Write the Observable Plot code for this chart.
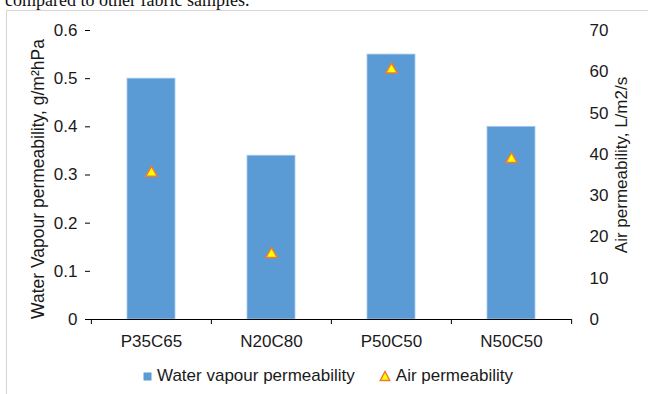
<!DOCTYPE html>
<html>
<head>
<meta charset="utf-8">
<script src="https://cdn.jsdelivr.net/npm/d3@7"></script>
<script src="https://cdn.jsdelivr.net/npm/@observablehq/plot@0.6"></script>
<style>
  html, body { margin: 0; padding: 0; background: #fff; }
  body { width: 648px; height: 394px; position: relative; overflow: hidden; font-family: "Liberation Sans", Arial, sans-serif; }
  #caption { position: absolute; left: 5px; top: -9px; font: 18px/18px "Liberation Serif", "Times New Roman", serif; color: #111; white-space: nowrap; }
  #frame { position: absolute; left: 6px; top: 10px; width: 660px; height: 400px; border-left: 1.5px solid #d6d6d6; border-top: 1.5px solid #d6d6d6; }
  #chart { position: absolute; left: 0; top: 0; }
  #legend { position: absolute; left: 143px; top: 366px; display: flex; align-items: center; font-size: 17px; color: #1a1a1a; white-space: nowrap; }
  #legend .item { display: flex; align-items: center; }
  #legend svg { margin-right: 5px; }
</style>
</head>
<body>
<div id="caption">compared to other fabric samples.</div>
<div id="frame"></div>
<div id="chart"></div>
<div id="legend"></div>
<script>
// ---- data ----
const samples = ["P35C65", "N20C80", "P50C50", "N50C50"];
const waterVapour = [0.50, 0.34, 0.55, 0.40];          // g/m²hPa (left axis)
const airPermeability = [36, 16.3, 61, 39.3];          // L/m2/s (right axis)
const leftTicks = [0, 0.1, 0.2, 0.3, 0.4, 0.5, 0.6];
const rightTicks = [0, 10, 20, 30, 40, 50, 60, 70];
const leftMax = 0.6, rightMax = 70;
const leftTitle = "Water Vapour permeability, g/m²hPa";
const rightTitle = "Air permeability, L/m2/s";
const seriesNames = ["Water vapour permeability", "Air permeability"];

const barColor = "#5b9bd5";
const triFill = "#ffff00";
const triStroke = "#ed7d31";
const textColor = "#1a1a1a";

const rows = samples.map((s, i) => ({sample: s, wv: waterVapour[i], air: airPermeability[i]}));
const toLeft = v => v * leftMax / rightMax;

const W = 648, H = 355, mL = 90, mR = 77, mT = 30, mB = 36;
const step = (W - mL - mR) / samples.length;

const chart = Plot.plot({
  width: W, height: H,
  marginLeft: mL, marginRight: mR, marginTop: mT, marginBottom: mB,
  style: {fontSize: "17px", fontFamily: "Liberation Sans, Arial, sans-serif", color: textColor, background: "transparent", overflow: "visible"},
  x: {domain: samples, paddingInner: 0.6, paddingOuter: 0.3},
  y: {domain: [0, leftMax]},
  marks: [
    Plot.barY(rows, {x: "sample", y: "wv", fill: barColor, stroke: "#a9c9ec", strokeWidth: 0.8}),
    Plot.ruleY([0], {stroke: "#000", strokeWidth: 1.2}),
    Plot.axisY({anchor: "left", ticks: leftTicks, tickSize: 5, tickPadding: 8, line: true, stroke: "#000",
      tickFormat: d => d === 0 ? "0" : d3.format(".1f")(d), label: null}),
    Plot.axisY(rightTicks.map(toLeft), {anchor: "right", tickSize: 0, tickPadding: 18,
      tickFormat: d => String(Math.round(d * rightMax / leftMax)), label: null}),
    Plot.text([leftTitle], {frameAnchor: "left", textAnchor: "middle", lineAnchor: "middle", rotate: -90, dx: -52, dy: 4, fontSize: 17.5, fill: textColor}),
    Plot.text([rightTitle], {frameAnchor: "right", textAnchor: "middle", lineAnchor: "middle", rotate: -90, dx: 50, dy: -10, fontSize: 17, fill: textColor}),
    Plot.axisX({anchor: "bottom", tickSize: 0, tickPadding: 15, label: null}),
    Plot.axisX({anchor: "bottom", tickSize: 5, tickFormat: () => "", dx: -step / 2, label: null, stroke: "#000"}),
    Plot.axisX([samples[samples.length - 1]], {anchor: "bottom", tickSize: 5, tickFormat: () => "", dx: step / 2, label: null, stroke: "#000"}),
    Plot.dot(rows, {x: "sample", y: d => toLeft(d.air), symbol: "triangle", r: 4.2, fill: triFill, stroke: triStroke, strokeWidth: 1.5, dy: 2})
  ]
});
document.getElementById("chart").appendChild(chart);

// ---- legend ----
const legend = document.getElementById("legend");
legend.innerHTML = `
  <div class="item"><svg width="9" height="9"><rect x="0.5" y="0.5" width="8" height="8" fill="${barColor}"/></svg><span>${seriesNames[0]}</span></div>
  <div class="item" style="margin-left:24px"><svg width="12" height="12"><path d="M6,1.5 L10.8,10.5 L1.2,10.5 Z" fill="${triFill}" stroke="${triStroke}" stroke-width="1.5"/></svg><span>${seriesNames[1]}</span></div>`;
</script>
</body>
</html>
